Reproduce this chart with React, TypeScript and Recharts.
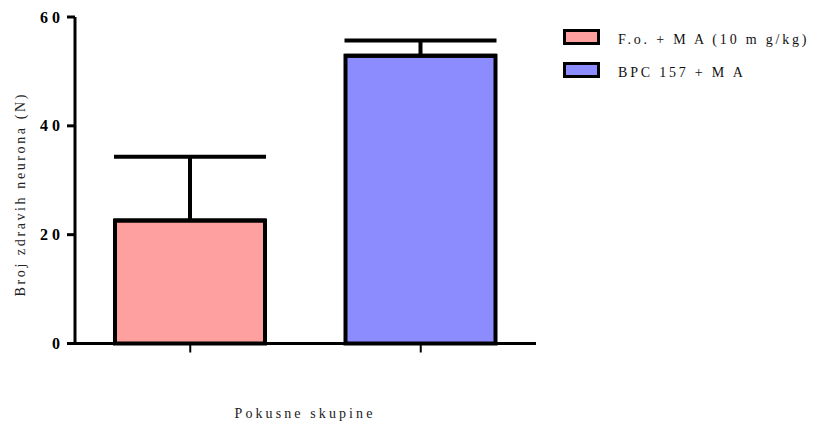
import React from 'react';
import { BarChart, Bar, Cell, XAxis, YAxis, ErrorBar } from 'recharts';

const groups = ['F.o. + MA (10 mg/kg)', 'BPC 157 + MA'];
const legendLabels = ['F.o. + M A (10 m g/kg)', 'BPC 157 + M A'];
const means = [22.6, 52.9];
const sem = [11.7, 2.8];
const colors = ['#FFA0A0', '#8C8CFF'];
const yTicks = [0, 20, 40, 60];

const data = groups.map((g, i) => ({ name: g, value: means[i], err: [0, sem[i]] }));

const FONT = 'Liberation Serif, Times New Roman, serif';

const YLabel = (props: any) => {
  const { viewBox } = props;
  const cy = viewBox.y + viewBox.height / 2 + 14;
  return (
    <text
      x={20}
      y={cy}
      transform={`rotate(-90, 20, ${cy})`}
      textAnchor="middle"
      dominantBaseline="central"
      style={{ fontFamily: FONT, fontSize: 14, letterSpacing: 2.6 }}
      fill="#222"
    >
      Broj zdravih neurona (N)
    </text>
  );
};

const XLabel = () => (
  <text
    x={305}
    y={413}
    textAnchor="middle"
    dominantBaseline="central"
    style={{ fontFamily: FONT, fontSize: 14, letterSpacing: 3.1 }}
    fill="#222"
  >
    Pokusne skupine
  </text>
);

const YTick = (props: any) => {
  const { x, y, payload } = props;
  return (
    <text
      x={x}
      y={y}
      textAnchor="end"
      dominantBaseline="central"
      style={{ fontFamily: FONT, fontSize: 16, fontWeight: 'bold', letterSpacing: 4 }}
      fill="#000"
    >
      {payload.value}
    </text>
  );
};

export default function App() {
  return (
    <div style={{ position: 'absolute', left: 0, top: 0, width: 814, height: 421, background: '#fff' }}>
      <BarChart
        width={814}
        height={421}
        data={data}
        margin={{ top: 17, right: 278, left: 0, bottom: 0 }}
      >
        <XAxis
          dataKey="name"
          height={77.5}
          axisLine={{ stroke: '#000', strokeWidth: 3 }}
          tickLine={{ stroke: '#000', strokeWidth: 2 }}
          tickSize={9}
          tick={() => <g />}
          label={<XLabel />}
        />
        <YAxis
          width={75}
          domain={[0, 60]}
          ticks={yTicks}
          interval={0}
          axisLine={{ stroke: '#000', strokeWidth: 3 }}
          tickLine={{ stroke: '#000', strokeWidth: 3 }}
          tickSize={8}
          tickMargin={3}
          tick={<YTick />}
          label={<YLabel />}
        />
        <Bar dataKey="value" barSize={150} stroke="#000" strokeWidth={4} isAnimationActive={false}>
          {data.map((d, i) => (
            <Cell key={d.name} fill={colors[i]} />
          ))}
          <ErrorBar dataKey="err" direction="y" width={76} stroke="#000" strokeWidth={4} />
        </Bar>
      </BarChart>
      <div style={{ position: 'absolute', left: 563, top: 29, fontFamily: FONT, fontSize: 14 }}>
        {legendLabels.map((l, i) => (
          <div key={l} style={{ display: 'flex', alignItems: 'center', height: 16, marginBottom: 17 }}>
            <div
              style={{
                width: 31,
                height: 10,
                border: '3px solid #000',
                background: colors[i],
                marginRight: 18,
              }}
            />
            <span
              style={{ letterSpacing: 2.8, color: '#111', whiteSpace: 'nowrap', position: 'relative', top: 3 }}
            >
              {l}
            </span>
          </div>
        ))}
      </div>
    </div>
  );
}
